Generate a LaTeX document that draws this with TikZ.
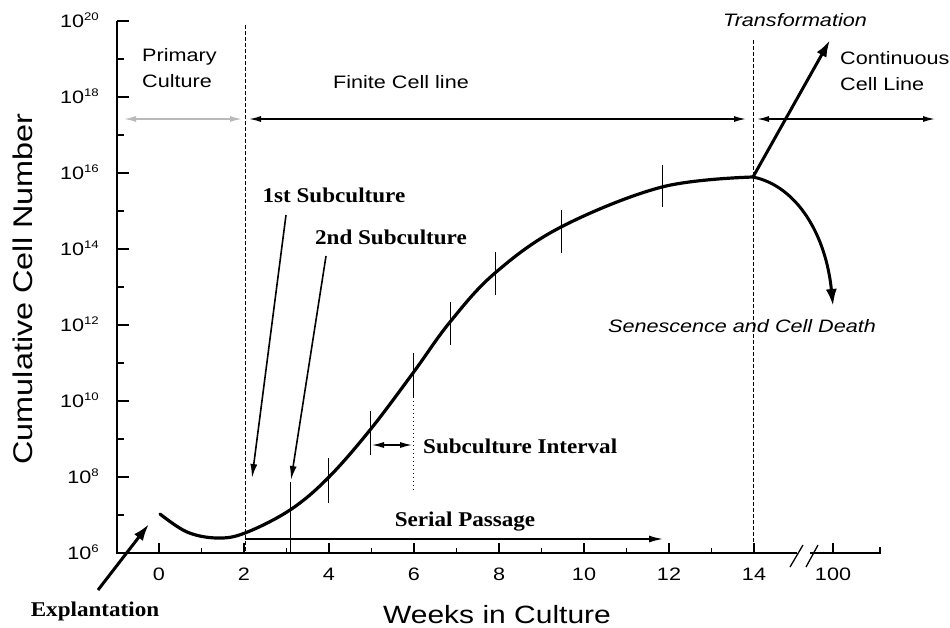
\documentclass[tikz,border=0pt]{standalone}
\usepackage{fontspec}
\usetikzlibrary{arrows.meta}
\newfontfamily\plotsans{Liberation Sans}[FakeStretch=1.2]
\newfontfamily\plotserif{Liberation Serif}[FakeStretch=1.1]

\tikzset{
	axislbl/.style={font=\plotsans\fontsize{18}{20}\selectfont, inner sep=0pt},
	txt/.style={font=\plotsans\fontsize{18}{26}\selectfont, inner sep=0pt},
	btxt/.style={font=\plotserif\bfseries\fontsize{21}{24}\selectfont, inner sep=0pt},
	axisline/.style={line width=1.8pt},
	growth/.style={line width=3.2pt, line cap=round},
	curvetick/.style={line width=0.8pt},
	bigarrow/.style={line width=3pt, -{Latex[length=17pt,width=11pt]}},
	thinarrow/.style={line width=1.6pt, -{Latex[length=14pt,width=7pt]}},
	spanarrow/.style={line width=1.5pt, {Latex[length=12pt,width=6pt]}-{Latex[length=12pt,width=6pt]}},
	phase/.style={line width=0.8pt, dash pattern=on 4pt off 2pt},
}

\begin{document}
\begin{tikzpicture}[x=1pt, y=-1pt]
	\useasboundingbox (0,0) rectangle (950,627);

	% axis
	\draw[axisline] (117,21) -- (117,553) -- (797,553);
	\draw[axisline] (810,553) -- (880,553) -- ++(0,-6);
	\draw[line width=1.3pt] (790,567) -- (803,545) (806,567) -- (818,545);
	\foreach \i in {0,...,7}
		\draw[axisline] (117,{553-76*\i}) -- ++(12,0);
	\foreach \i in {0,...,6}
		\draw[axisline] (117,{515-76*\i}) -- ++(7,0);
	\foreach \e [count=\i from 0] in {6,8,...,20}
		\node[axislbl, anchor=base east] (y\e) at (99,{559.5-76*\i}) {10\raisebox{7pt}{\fontsize{11}{11}\selectfont\e}};
	\foreach \w in {0,2,...,14} {
		\draw[axisline] ({159+42.5*\w},553) -- ++(0,-10);
		\node[axislbl] (x\w) at ({159+42.5*\w},574) {\w};
	}
	\foreach \w in {1,3,...,13}
		\draw[axisline] ({159+42.5*\w},553) -- ++(0,-5);
	\draw[axisline] (833,553) -- ++(0,-10);
	\node[axislbl] (x100) at (833,574) {100};
	\node[font=\plotsans\fontsize{25}{28}\selectfont, anchor=base] (xtitle) at (497,623) {Weeks in Culture};
	\node[font=\plotsans\fontsize{27}{30}\selectfont, anchor=base, rotate=90] (ytitle) at (32,289) {Cumulative Cell Number};

	% phases
	\draw[phase] (245,25) -- (245,553);
	\draw[phase] (753,40) -- (753,553);
	\draw[spanarrow, gray!55] (124,119) -- (242,119);
	\draw[spanarrow] (249,119) -- (746,119);
	\draw[spanarrow] (757,119) -- (935,119);
	\node[txt, align=left, anchor=west] (primary) at (142,68) {Primary\\Culture};
	\node[txt] (finite) at (401,82) {Finite Cell line};
	\node[txt, align=left, anchor=west] (continuous) at (840,71) {Continuous\\Cell Line};
	\node[txt, font=\plotsans\itshape\fontsize{18}{26}\selectfont] (transf) at (795,20) {Transformation};
	\node[txt, font=\plotsans\itshape\fontsize{18}{26}\selectfont] (senesc) at (742,326) {Senescence and Cell Death};

	% growth curve
	\coordinate (start) at (160,514);
	\coordinate (peak) at (753,177);
	\draw[growth] plot[smooth, tension=0.6] coordinates {(160,514) (187,532) (217,538) (245,533) (290,510) (328,478) (370,430) (413,373) (450,322) (495,273) (561,227) (662,187) (753,177)};
	\foreach \x/\a/\b in {328/458/503, 370/411/455, 413/353/397, 450/302/345, 495/252/295, 561/210/253, 662/165/207}
		\draw[curvetick] (\x,\a) -- (\x,\b);
	\draw[curvetick] (290,482) -- (290,553);
	\draw[curvetick, dash pattern=on 1pt off 3pt] (413,397) -- (413,490);
	\draw[bigarrow] (peak) -- (830,40);
	\draw[bigarrow] (peak) .. controls (797,186) and (826,235) .. (833,306);

	% subcultures
	\node[btxt] (first) at (334,195) {1st Subculture};
	\node[btxt] (second) at (391,237) {2nd Subculture};
	\coordinate (firsttip) at (252,478);
	\coordinate (secondtip) at (291,480);
	\draw[thinarrow] (286,215) -- (firsttip);
	\draw[thinarrow] (326,256) -- (secondtip);
	\node[btxt, anchor=west] (interval) at (423,446) {Subculture Interval};
	\draw[spanarrow, line width=1.2pt] (372,445) -- (412,445);
	\node[btxt] (serial) at (465,522) {Serial Passage};
	\draw[thinarrow] (245,539) -- (663,539);
	\node[btxt] (explant) at (95,611) {Explantation};
	\draw[bigarrow] (98,590) -- (149,524);
\end{tikzpicture}
\end{document}
